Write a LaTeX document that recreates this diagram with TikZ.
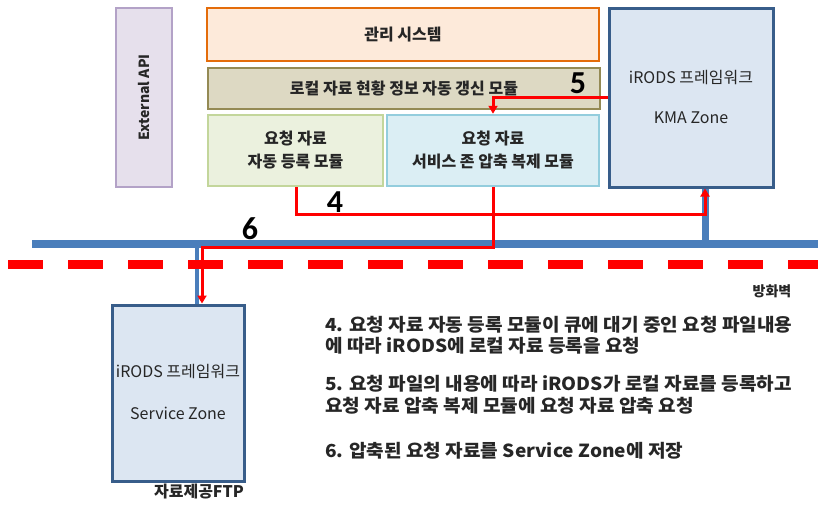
\documentclass[tikz,border=0pt]{standalone}
\usepackage{fontspec}
\setmainfont{Noto Sans CJK KR}
\newfontfamily\numfont{Carlito}
\newfontfamily\descfont[FakeStretch=1.06]{Noto Sans CJK KR}
\usetikzlibrary{arrows.meta}
\definecolor{extfill}{HTML}{E6E0EC}
\definecolor{extdraw}{HTML}{B3A2C7}
\definecolor{mgfill}{HTML}{FDEADA}
\definecolor{mgdraw}{HTML}{E46C0A}
\definecolor{lofill}{HTML}{DDD9C3}
\definecolor{lodraw}{HTML}{948A54}
\definecolor{rgfill}{HTML}{EBF1DE}
\definecolor{rgdraw}{HTML}{C3D69B}
\definecolor{svfill}{HTML}{DBEEF4}
\definecolor{svdraw}{HTML}{93CDDD}
\definecolor{zfill}{HTML}{DCE6F2}
\definecolor{zdraw}{HTML}{385D8A}
\definecolor{bus}{HTML}{4A7EBB}
\definecolor{txt}{HTML}{262626}
\tikzset{
  box/.style={draw, line width=2.5pt, rectangle, inner sep=0pt, align=center,
    font=\fontsize{16}{23}\selectfont\bfseries, text=txt},
  zone/.style={draw=zdraw, fill=zfill, line width=3pt, rectangle, inner sep=0pt},
  ztext/.style={font=\fontsize{16}{18}\selectfont, text=txt},
  redarrow/.style={draw=red, line width=3pt, -{Triangle[length=8pt,width=9pt]}},
  numlab/.style={font=\numfont\fontsize{32}{32}\selectfont\bfseries, text=black},
  desc/.style={anchor=west, font=\descfont\fontsize{18}{20}\selectfont\bfseries, text=txt, inner sep=0pt},
}
\begin{document}
\begin{tikzpicture}[x=1pt,y=-1pt]
\useasboundingbox (0,0) rectangle (818,506);
\fill[white] (0,0) rectangle (818,506);
% boxes
\node[box, draw=extdraw, fill=extfill, minimum width=56, minimum height=179] (ext) at (144,97.5) {};
\node[font=\fontsize{14}{16}\selectfont\bfseries, text=txt, rotate=90] (extt) at (ext.center) {External API};
\node[box, draw=mgdraw, fill=mgfill, minimum width=392, minimum height=53] (mg) at (403,34.5) {관리 시스템};
\node[box, draw=lodraw, fill=lofill, minimum width=392, minimum height=41] (lo) at (404,88.5) {로컬 자료 현황 정보 자동 갱신 모듈};
\node[box, draw=rgdraw, fill=rgfill, minimum width=175, minimum height=71] (rg) at (295.5,150.5) {요청 자료\\자동 등록 모듈};
\node[box, draw=svdraw, fill=svfill, minimum width=212, minimum height=71] (sv) at (493,150.5) {요청 자료\\서비스 존 압축 복제 모듈};
\node[zone, minimum width=164, minimum height=179] (kma) at (691,97.5) {};
\node[ztext] (kma1) at (691,78) {iRODS 프레임워크};
\node[ztext] (kma2) at (691,118) {KMA Zone};
\node[zone, minimum width=132, minimum height=176] (sz) at (178,393) {};
\node[ztext] (sz1) at (178,372) {iRODS 프레임워크};
\node[ztext] (sz2) at (178,413) {Service Zone};
% helper coordinates
\coordinate (busL) at (32,244);
\coordinate (busR) at (818,244);
\coordinate (xk) at (705,0);
\coordinate (xs) at (197,0);
\coordinate (x4) at (296,0);
\coordinate (x5) at (493,0);
\coordinate (x6) at (202,0);
\coordinate (y4) at (0,214);
\coordinate (y5) at (0,97);
\coordinate (y6) at (0,247);
% bus and firewall
\draw[bus, line width=8pt] (busL) -- (busR);
\draw[bus, line width=7pt] (kma.south -| xk) -- (busL -| xk);
\draw[bus, line width=4pt] (busL -| xs) -- (sz.north -| xs);
\coordinate (fwL) at (8,264);
\coordinate (fwR) at (818,264);
\draw[red, line width=9pt, dash pattern=on 35pt off 25pt] (fwL) -- (fwR);
\node[font=\fontsize{14}{16}\selectfont\bfseries, text=txt] (fw) at (772,291) {방화벽};
\node[font=\fontsize{16}{18}\selectfont\bfseries, text=txt] (ftp) at (199,492) {자료제공FTP};
% red arrows
\draw[redarrow] (rg.south -| x4) -- (x4 |- y4) -- (xk |- y4) -- (kma.south -| xk);
\draw[redarrow] (kma.west |- y5) -- (x5 |- y5) -- (sv.north -| x5);
\draw[redarrow] (sv.south -| x5) -- (x5 |- y6) -- (x6 |- y6) -- (sz.north -| x6);
\node[numlab] (n4) at (335,202) {4};
\node[numlab] (n5) at (578,83) {5};
\node[numlab] (n6) at (250,229) {6};
% description
\node[desc] (d1) at (325,325) {4. 요청 자료 자동 등록 모듈이 큐에 대기 중인 요청 파일내용};
\node[desc] (d2) at (325,346) {에 따라 iRODS에 로컬 자료 등록을 요청};
\node[desc] (d3) at (325,384) {5. 요청 파일의 내용에 따라 iRODS가 로컬 자료를 등록하고};
\node[desc] (d4) at (325,406) {요청 자료 압축 복제 모듈에 요청 자료 압축 요청};
\node[desc] (d5) at (325,451) {6. 압축된 요청 자료를 Service Zone에  저장};
\end{tikzpicture}
\end{document}
